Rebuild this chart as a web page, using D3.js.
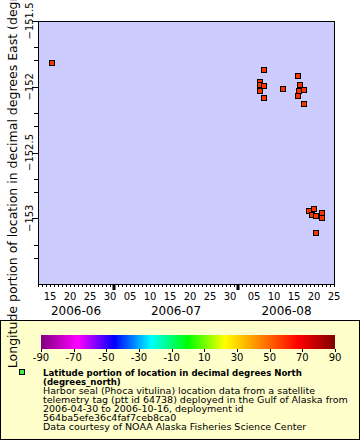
<!DOCTYPE html>
<html><head><meta charset="utf-8">
<script src="https://cdn.jsdelivr.net/npm/d3@7"></script>
<style>body{margin:0;background:#fff}svg{display:block}text{font-family:"DejaVu Sans",sans-serif;fill:#000}</style>
</head><body><svg id="c" width="360" height="440"></svg>
<script>
// ---- data ----
const times = ["2006-06-15T10:12Z","2006-08-07T10:12Z","2006-08-06T09:00Z","2006-08-06T10:12Z","2006-08-07T10:12Z",
  "2006-08-06T10:12Z","2006-08-07T10:12Z","2006-08-12T04:12Z","2006-08-16T00:00Z","2006-08-16T10:12Z",
  "2006-08-17T10:12Z","2006-08-16T04:12Z","2006-08-16T00:00Z","2006-08-17T10:12Z","2006-08-18T19:48Z",
  "2006-08-19T22:12Z","2006-08-19T10:12Z","2006-08-20T12:00Z","2006-08-21T22:12Z","2006-08-21T22:12Z","2006-08-20T12:00Z"];
const lons = [-151.82,-151.869,-151.966,-151.985,-151.998,-152.036,-152.089,-152.015,-151.922,-151.99,
  -152.028,-152.036,-152.068,-152.134,-152.945,-152.93,-152.972,-152.98,-152.957,-152.998,-153.111];
const lats = [58.4,58.5,58.5,58.4,58.5,58.5,58.4,58.5,58.6,58.5,58.5,58.6,58.5,58.5,58.3,58.4,58.3,58.4,58.3,58.4,58.3];
const yMajorTicks = [-151.5,-152,-152.5,-153];
const yMinorTicks = [-151.7,-151.8,-152.2,-152.3,-152.7,-152.8,-153.2,-153.3];
const cbTicks = [-90,-70,-50,-30,-10,10,30,50,70,90];
const cbStops = [-90,-67.5,-45,-22.5,0,22.5,45,67.5,90];
const cbColors = ["#800080","#ff00ff","#0000ff","#00ffff","#00ff00","#ffff00","#ff8000","#ff0000","#800000"];
const yTitle = "Longitude portion of location in decimal degrees East (degrees_east)";
const legendTitle = ["Latitude portion of location in decimal degrees North","(degrees_north)"];
const legendLines = ["Harbor seal (Phoca vitulina) location data from a satellite",
  "telemetry tag (ptt id 64738) deployed in the Gulf of Alaska from",
  "2006-04-30 to 2006-10-16, deployment id",
  "564ba5efe36c4faf7ceb8ca0",
  "Data courtesy of NOAA Alaska Fisheries Science Center"];

const parse = d3.isoParse;
const pts = times.map((t,i)=>({t:parse(t),lon:lons[i],lat:lats[i]}));

const svg = d3.select("#c");
const L=38,R=335,T=21,B=284;
const x = d3.scaleUtc().domain([parse("2006-06-12T00:00Z"),parse("2006-08-25T06:00Z")]).range([L,R]);
const y = d3.scaleLinear().domain([-153.5,-151.5]).range([B,T]);
const color = d3.scaleLinear().domain(cbStops).range(cbColors).clamp(true);

svg.append("rect").attr("x",L).attr("y",T).attr("width",R-L).attr("height",B-T).attr("fill","#ccccff");

// points
svg.append("g").selectAll("rect").data(pts).join("rect")
  .attr("x",d=>Math.round(x(d.t))-2.5).attr("y",d=>Math.round(y(d.lon))-2.5)
  .attr("width",5).attr("height",5).attr("fill",d=>color(d.lat)).attr("stroke","#000").attr("stroke-width",1);

svg.append("rect").attr("x",L+0.5).attr("y",T+0.5).attr("width",R-L-1).attr("height",B-T).attr("fill","none").attr("stroke","#000");

// x axis
const [d0,d1] = x.domain();
const days = d3.utcDay.range(d0,d1);
const xa = svg.append("g");
xa.selectAll("line.minor").data(days).join("line")
  .attr("x1",d=>Math.round(x(d))+0.5).attr("x2",d=>Math.round(x(d))+0.5)
  .attr("y1",B).attr("y2",d=>B+3).attr("stroke","#000");
const labDays = days.filter(d=>d.getUTCDate()%5===0 && d.getUTCDate()<=30);
xa.selectAll("text.tick").data(labDays).join("text")
  .attr("x",d=>x(d)).attr("y",B+16).attr("text-anchor","middle").attr("font-size",10)
  .text(d3.utcFormat("%d"));
const months = d3.utcMonth.range(d0,d1);
xa.selectAll("line.month").data(months).join("line")
  .attr("x1",d=>x(d)).attr("x2",d=>x(d)).attr("y1",B).attr("y2",B+6).attr("stroke","#000").attr("stroke-width",3);
const mStarts = [d0,...months], mEnds=[...months,d1];
xa.selectAll("text.month").data(mStarts).join("text")
  .attr("x",(d,i)=>(x(d)+x(mEnds[i]))/2).attr("y",B+31).attr("text-anchor","middle").attr("font-size",12)
  .text(d3.utcFormat("%Y-%m"));

// y axis
const ya = svg.append("g");
ya.selectAll("line.maj").data(yMajorTicks).join("line")
  .attr("x1",L-6).attr("x2",L).attr("y1",d=>Math.round(y(d))+0.5).attr("y2",d=>Math.round(y(d))+0.5).attr("stroke","#000");
ya.selectAll("line.min").data(yMinorTicks).join("line")
  .attr("x1",L-4).attr("x2",L).attr("y1",d=>Math.round(y(d))+0.5).attr("y2",d=>Math.round(y(d))+0.5).attr("stroke","#000");
ya.selectAll("text").data(yMajorTicks).join("text")
  .attr("transform",d=>`translate(33,${y(d)}) rotate(-90)`).attr("text-anchor","middle").attr("font-size",10)
  .text(d=>d3.format("")(d));

// legend
svg.append("rect").attr("x",0.5).attr("y",320.5).attr("width",359).attr("height",119).attr("fill","#ffffcc").attr("stroke","#000");
const defs = svg.append("defs");
const grad = defs.append("linearGradient").attr("id","cb");
const cbx = d3.scaleLinear().domain([-90,90]).range([41,335]);
grad.selectAll("stop").data(cbStops).join("stop")
  .attr("offset",d=>(d+90)/180).attr("stop-color",d=>color(d));
svg.append("rect").attr("x",41).attr("y",335).attr("width",294).attr("height",14).attr("fill","url(#cb)");
svg.selectAll("line.cbt").data(cbTicks).join("line")
  .attr("x1",d=>Math.round(cbx(d))+0.5).attr("x2",d=>Math.round(cbx(d))+0.5).attr("y1",349).attr("y2",352).attr("stroke","#000");
svg.selectAll("text.cbt").data(cbTicks).join("text")
  .attr("x",d=>cbx(d)).attr("y",361).attr("text-anchor","middle").attr("font-size",10).text(d=>d);
svg.append("rect").attr("x",19.5).attr("y",369.5).attr("width",5).attr("height",5).attr("fill","#44ee44").attr("stroke","#000");
const lg = svg.append("g");
legendTitle.forEach((s,i)=>lg.append("text").attr("x",43).attr("y",375.5+9*i).attr("font-weight","bold").attr("font-size",8.6).text(s));
legendLines.forEach((s,i)=>lg.append("text").attr("x",43).attr("y",393.5+9*i).attr("font-size",9.5).text(s));

// y title
svg.append("text").attr("transform",`translate(17,${(T+B)/2}) rotate(-90)`).attr("text-anchor","middle")
  .attr("font-size",12.5).text(yTitle);
</script></body></html>
